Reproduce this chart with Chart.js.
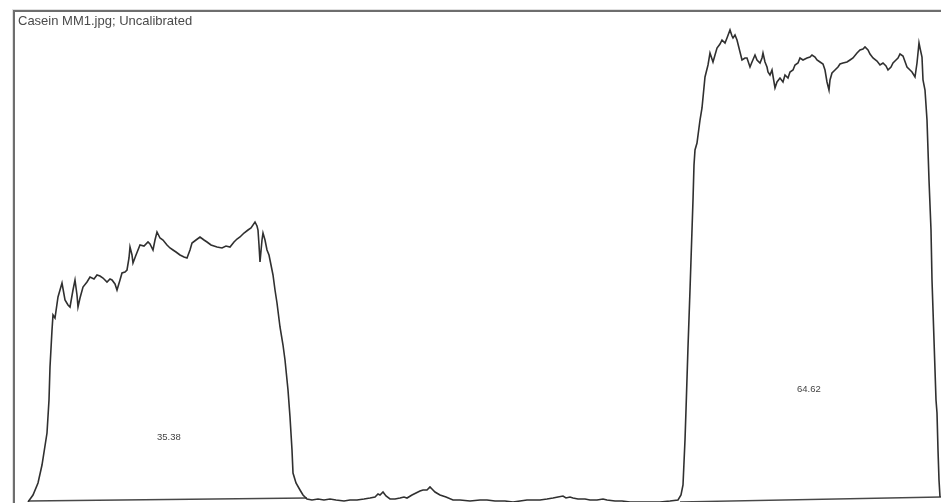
<!DOCTYPE html>
<html>
<head>
<meta charset="utf-8">
<script src="https://cdn.jsdelivr.net/npm/chart.js@4/dist/chart.umd.min.js"></script>
<style>
  html, body { margin: 0; padding: 0; background: #fff; }
  #wrap { position: relative; width: 941px; height: 503px; overflow: hidden; }
  canvas { position: absolute; left: 0; top: 0; }
  .txt { position: absolute; font-family: "Liberation Sans", Arial, sans-serif; color: #3a3a3a; white-space: nowrap; line-height: 1; }
  #title { left: 18px; top: 14px; font-size: 13px; color: #4a4a4a; }
  .area { font-size: 9.5px; color: #444; }
</style>
</head>
<body>
<div id="wrap">
  <canvas id="c" width="941" height="503"></canvas>
  <div id="title" class="txt">Casein MM1.jpg; Uncalibrated</div>
  <div id="lbl1" class="txt area" style="left:157px; top:432px;">35.38</div>
  <div id="lbl2" class="txt area" style="left:797px; top:384px;">64.62</div>
</div>
<script>
// Lane profile (distance along lane in px, uncalibrated density)
const positions = [
  14,19,24,28,33,35,36,38,39,41,44,48,51,54,56,59,61,63,64,66,69,73,76,80,83,86,89,93,96,98,
  101,103,106,108,111,113,115,116,118,119,122,126,130,134,136,139,141,143,146,149,153,156,159,162,166,170,173,176,178,182,
  186,190,193,197,200,203,208,212,216,220,223,226,230,234,237,241,243,244,245,246,248,249,251,253,255,256,259,261,263,266,
  269,271,274,276,278,279,282,286,289,293,
  298,304,310,316,322,330,336,343,350,356,361,364,366,369,372,376,381,386,390,393,398,402,406,409,413,416,418,421,426,432,
  439,446,456,466,473,481,491,499,506,513,519,526,533,539,544,549,552,556,559,564,571,576,583,589,593,601,608,616,626,636,
  646,656,664,667,669,671,672,674,676,678,679,680,681,683,686,688,691,694,696,699,701,703,706,708,711,713,716,718,719,721,
  723,726,728,731,733,736,738,741,743,746,748,749,751,753,754,756,758,761,763,766,769,771,774,776,779,781,784,786,789,793,
  796,798,801,803,806,809,811,813,815,816,818,821,824,826,829,833,836,839,843,846,849,851,854,856,859,863,866,869,872,874,
  877,879,882,884,886,889,893,896,898,901,903,905,906,908,909,911,913,914,915,917,918,920,922,923,924,925,926
];
const density = [
  0,7,19,37,69,102,135,172,187,184,205,219,202,197,195,212,222,207,195,204,215,220,225,223,227,226,224,220,223,222,
  218,212,222,229,230,232,244,255,247,239,247,257,256,260,258,252,262,270,264,262,257,254,252,250,247,245,244,252,259,262,
  265,262,260,257,256,255,254,256,255,260,263,265,269,272,274,280,276,272,257,240,262,269,262,252,247,242,227,212,199,175,
  157,142,112,85,52,29,19,12,7,3,
  2,3,2,3,2,1,2,2,3,4,5,8,7,10,6,3,3,4,5,4,7,9,11,12,12,15,13,10,7,5,
  2,2,1,2,2,1,1,0,1,2,2,2,3,4,5,6,4,5,4,3,3,2,2,3,2,1,1,0,0,0,
  0,1,2,7,17,62,92,155,212,272,302,337,352,359,382,394,425,437,449,440,447,454,458,462,459,464,472,466,464,467,
  462,450,442,444,444,435,440,447,442,439,444,449,440,435,430,427,432,414,420,424,420,427,424,430,432,437,439,444,442,444,
  445,447,445,442,440,438,432,420,412,422,429,432,435,438,439,440,442,444,449,452,453,455,452,448,444,441,437,439,436,432,
  435,439,442,444,448,446,435,432,430,425,439,459,454,445,422,412,382,352,322,272,222,162,102,89,52,22,5
];
// Peak baselines (start / end position, density)
const baseline1Pos = [14, 293];
const baseline1Val = [1, 4];
const baseline2Pos = [666, 927];
const baseline2Val = [0, 5];
// Peak area percentages
const peakLabels = ["35.38", "64.62"];

const toXY = (xs, ys) => xs.map((x, i) => ({ x: x, y: ys[i] }));

const framePlugin = {
  id: 'frame',
  afterDraw(chart) {
    const { ctx, chartArea: a } = chart;
    ctx.save();
    ctx.strokeStyle = '#6e6e6e';
    ctx.lineWidth = 2;
    ctx.beginPath();
    ctx.moveTo(a.left, chart.height);
    ctx.lineTo(a.left, a.top);
    ctx.lineTo(chart.width, a.top);
    ctx.stroke();
    ctx.strokeStyle = 'rgba(0,0,0,0.12)';
    ctx.lineWidth = 1;
    ctx.beginPath();
    ctx.moveTo(a.left - 1.5, chart.height);
    ctx.lineTo(a.left - 1.5, a.top - 1.5);
    ctx.lineTo(chart.width, a.top - 1.5);
    ctx.stroke();
    ctx.restore();
  }
};

new Chart(document.getElementById('c'), {
  type: 'line',
  data: {
    datasets: [
      { data: toXY(positions, density), borderColor: '#303030', borderWidth: 1.6, pointRadius: 0, tension: 0, fill: false },
      { data: toXY(baseline1Pos, baseline1Val), borderColor: '#484848', borderWidth: 1.4, pointRadius: 0, fill: false },
      { data: toXY(baseline2Pos, baseline2Val), borderColor: '#484848', borderWidth: 1.4, pointRadius: 0, fill: false }
    ]
  },
  options: {
    responsive: false,
    animation: false,
    devicePixelRatio: 1,
    layout: { padding: { left: 14, top: 11, right: 0, bottom: 1 } },
    plugins: { legend: { display: false }, tooltip: { enabled: false }, title: { display: false } },
    scales: {
      x: { type: 'linear', min: 0, max: 927, display: false },
      y: { type: 'linear', min: 0, max: 491, display: false }
    }
  },
  plugins: [framePlugin]
});
document.getElementById('lbl1').textContent = peakLabels[0];
document.getElementById('lbl2').textContent = peakLabels[1];
</script>
</body>
</html>
